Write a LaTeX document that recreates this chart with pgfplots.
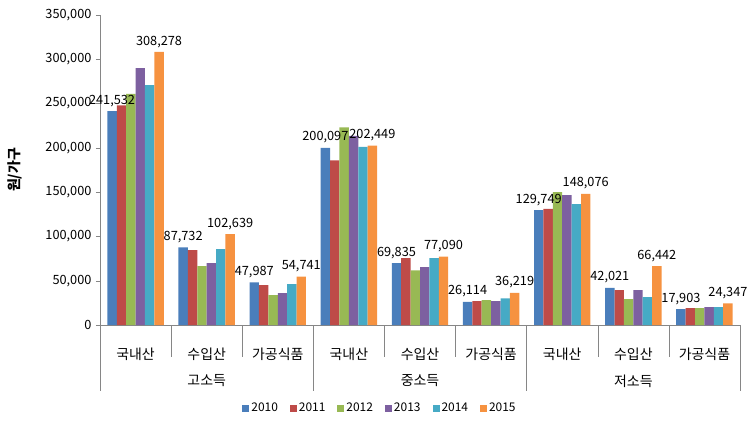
\documentclass[border=0pt]{standalone}
\usepackage{fontspec}
\setmainfont{Noto Sans CJK KR}
\usepackage{pgfplots}
\pgfplotsset{compat=1.18}
\definecolor{c1}{HTML}{4A7EBB}
\definecolor{c2}{HTML}{BE4B48}
\definecolor{c3}{HTML}{98B954}
\definecolor{c4}{HTML}{7D60A0}
\definecolor{c5}{HTML}{46AAC5}
\definecolor{c6}{HTML}{F69240}
\definecolor{axgray}{HTML}{868686}
\begin{document}
\begin{tikzpicture}
\path[use as bounding box] (-100bp,-104bp) rectangle (654bp,325bp);
\begin{axis}[
  at={(0,0)}, anchor=south west,
  scale only axis, width=640bp, height=310bp,
  xmin=-0.5, xmax=8.5, ymin=0, ymax=350000,
  ybar=0pt, bar width=9.4bp,
  axis x line*=bottom, axis y line*=left,
  axis line style={draw=axgray, -},
  ytick={0,50000,100000,150000,200000,250000,300000,350000},
  scaled y ticks=false,
  /pgf/number format/fixed,
  /pgf/number format/1000 sep={,},
  /pgf/number format/assume math mode=true,
  y tick label style={font=\fontsize{12.8}{14}\selectfont, xshift=-1bp},
  tick align=outside, major tick length=4bp,
  y tick style={draw=axgray},
  xtick={0,...,8},
  xticklabels={국내산,수입산,가공식품,국내산,수입산,가공식품,국내산,수입산,가공식품},
  x tick style={draw=none},
  x tick label style={font=\fontsize{14}{16}\selectfont, anchor=center, yshift=-25bp},
  ylabel={\bfseries 원/가구},
  ylabel style={font=\fontsize{14}{16}\selectfont, at={(axis description cs:-0.133,0.5)}, anchor=center},
  clip=false,
  legend columns=6,
  legend style={draw=none, at={(0.4375,-0.268)}, anchor=center,
    font=\fontsize{12}{14}\selectfont,
    /tikz/every even column/.append style={column sep=10bp}},
  legend image code/.code={\path[#1] (0bp,-3.5bp) rectangle (7bp,3.5bp);},
  every node near coord/.append style={text=black, font=\fontsize{12.8}{14}\selectfont, anchor=south, yshift=1bp},
]
\addplot[fill=c1, draw=none, nodes near coords={\pgfmathprintnumber[fixed,1000 sep={,}]{\pgfplotspointmeta}}]
  coordinates {(0,241532) (1,87732) (2,47987) (3,200097) (4,69835) (5,26114) (6,129749) (7,42021) (8,17903)};
\addplot[fill=c2, draw=none]
  coordinates {(0,248000) (1,84600) (2,45100) (3,186000) (4,75600) (5,27000) (6,131000) (7,39500) (8,19000)};
\addplot[fill=c3, draw=none]
  coordinates {(0,261000) (1,66500) (2,33800) (3,223000) (4,61700) (5,28000) (6,150000) (7,29300) (8,19000)};
\addplot[fill=c4, draw=none]
  coordinates {(0,290000) (1,70000) (2,36100) (3,213500) (4,65400) (5,27000) (6,146600) (7,39500) (8,20300)};
\addplot[fill=c5, draw=none]
  coordinates {(0,270700) (1,85700) (2,46250) (3,201000) (4,75500) (5,30000) (6,136500) (7,31600) (8,20300)};
\addplot[fill=c6, draw=none, nodes near coords={\pgfmathprintnumber[fixed,1000 sep={,}]{\pgfplotspointmeta}}]
  coordinates {(0,308278) (1,102639) (2,54741) (3,202449) (4,77090) (5,36219) (6,148076) (7,66442) (8,24347)};
\legend{2010,2011,2012,2013,2014,2015}
\pgfplotsinvokeforeach{-0.5,2.5,5.5,8.5}{
  \draw[axgray] (axis cs:#1,0) -- ++(0bp,-66bp);
}
\pgfplotsinvokeforeach{0.5,1.5,3.5,4.5,6.5,7.5}{
  \draw[axgray] (axis cs:#1,0) -- ++(0bp,-32bp);
}
\node[font=\fontsize{14}{16}\selectfont] at (axis cs:1,0) [yshift=-56bp] {고소득};
\node[font=\fontsize{14}{16}\selectfont] at (axis cs:4,0) [yshift=-56bp] {중소득};
\node[font=\fontsize{14}{16}\selectfont] at (axis cs:7,0) [yshift=-56bp] {저소득};
\end{axis}
\end{tikzpicture}
\end{document}
